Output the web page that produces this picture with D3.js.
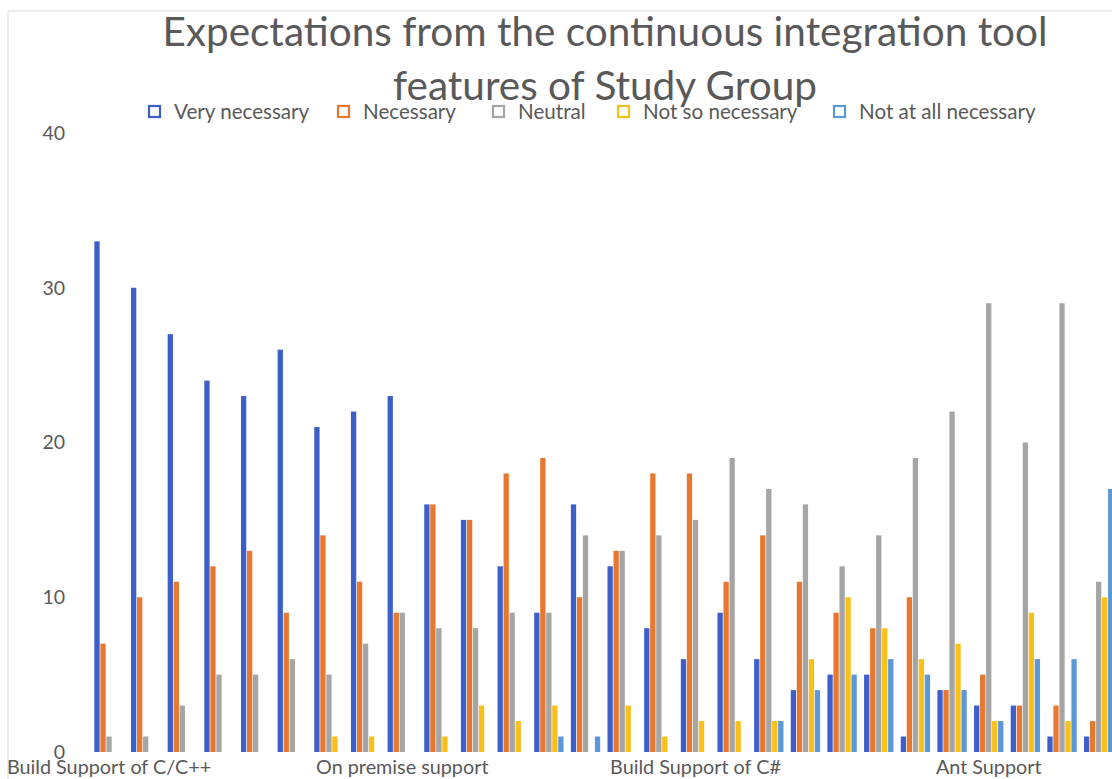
<!DOCTYPE html>
<html>
<head>
<meta charset="utf-8">
<script src="https://cdn.jsdelivr.net/npm/d3@7"></script>
<style>
  html, body { margin: 0; padding: 0; background: #fff; }
  svg { display: block; }
  text { font-family: Lato, "Open Sans", sans-serif; }
</style>
</head>
<body>
<svg id="chart" width="1112" height="779"></svg>
<script>
// ---- data ----
const titleLines = ["Expectations from the continuous integration tool", "features of Study Group"];
const seriesNames = ["Very necessary", "Necessary", "Neutral", "Not so necessary", "Not at all necessary"];
const seriesColors = ["#3D5FC9", "#E8782F", "#A5A5A5", "#F9C01A", "#5A98D8"];
// visible category labels (Excel shows every 8th); hidden ones left blank
const categoryLabels = [
  "Build Support of C/C++", "", "", "", "", "", "", "",
  "On premise support", "", "", "", "", "", "", "",
  "Build Support of C#", "", "", "", "", "", "", "",
  "Ant Support", "", "", ""
];
const veryNecessary    = [33,30,27,24,23,26,21,22,23,16,15,12, 9,16,12, 8, 6, 9, 6, 4, 5, 5, 1, 4, 3, 3, 1, 1];
const necessary        = [ 7,10,11,12,13, 9,14,11, 9,16,15,18,19,10,13,18,18,11,14,11, 9, 8,10, 4, 5, 3, 3, 2];
const neutral          = [ 1, 1, 3, 5, 5, 6, 5, 7, 9, 8, 8, 9, 9,14,13,14,15,19,17,16,12,14,19,22,29,20,29,11];
const notSoNecessary   = [ 0, 0, 0, 0, 0, 0, 1, 1, 0, 1, 3, 2, 3, 0, 3, 1, 2, 2, 2, 6,10, 8, 6, 7, 2, 9, 2,10];
const notAtAllNecessary= [ 0, 0, 0, 0, 0, 0, 0, 0, 0, 0, 0, 0, 1, 1, 0, 0, 0, 0, 2, 4, 5, 6, 5, 4, 2, 6, 6,17];
const yTicks = [0, 10, 20, 30, 40];

const seriesValues = [veryNecessary, necessary, neutral, notSoNecessary, notAtAllNecessary];
const rows = categoryLabels.map((lab, i) => ({
  idx: i, label: lab,
  values: seriesNames.map((s, k) => ({ key: s, k: k, value: seriesValues[k][i] }))
}));

// ---- layout ----
const svg = d3.select("#chart");
const W = 1112, H = 779;
const plot = { left: 90.7, right: 1117, top: 133, bottom: 752 };

// chart border (top & left)
svg.append("line").attr("x1", 8).attr("x2", W).attr("y1", 11).attr("y2", 11)
  .attr("stroke", "#d9d9d9").attr("stroke-width", 1);
svg.append("line").attr("x1", 8).attr("x2", 8).attr("y1", 11).attr("y2", H)
  .attr("stroke", "#d9d9d9").attr("stroke-width", 1);

const x0 = d3.scaleBand().domain(rows.map(d => d.idx))
  .range([plot.left, plot.right]).paddingInner(0.16).paddingOuter(0.08);
const x1 = d3.scaleBand().domain(d3.range(seriesNames.length))
  .range([0, x0.bandwidth()]).padding(0.12);
const y = d3.scaleLinear().domain([0, 40]).range([plot.bottom, plot.top]);

// bars
const g = svg.append("g");
g.selectAll("g.grp").data(rows).join("g")
  .attr("class", "grp")
  .attr("transform", d => `translate(${x0(d.idx)},0)`)
  .selectAll("rect").data(d => d.values.filter(v => v.value > 0)).join("rect")
  .attr("x", v => x1(v.k))
  .attr("width", x1.bandwidth())
  .attr("y", v => y(v.value))
  .attr("height", v => y(0) - y(v.value))
  .attr("fill", v => seriesColors[v.k]);

// y axis (labels only)
const yAxis = d3.axisLeft(y).tickValues(yTicks).tickSize(0).tickPadding(0);
const yg = svg.append("g").attr("transform", "translate(65,0)").call(yAxis);
yg.select(".domain").remove();
yg.selectAll("text").attr("font-size", 19.5).attr("fill", "#595959")
  .style("font-family", "Lato, sans-serif");

// x axis (labels only)
const xAxis = d3.axisBottom(x0).tickFormat(i => categoryLabels[i]).tickSize(0).tickPadding(0);
const xg = svg.append("g").attr("transform", `translate(0,${plot.bottom + 8})`).call(xAxis);
xg.select(".domain").remove();
xg.selectAll("text").attr("font-size", 19.8).attr("fill", "#595959")
  .style("font-family", "Lato, sans-serif");

// title
svg.append("g").selectAll("text").data(titleLines).join("text")
  .attr("x", 605).attr("y", (d, i) => 46 + i * 54)
  .attr("text-anchor", "middle")
  .attr("font-size", 40.5).attr("fill", "#595959")
  .text(d => d);

// legend
const legendX = [148, 337, 492, 617, 833];
const lg = svg.append("g").selectAll("g").data(seriesNames).join("g")
  .attr("transform", (d, i) => `translate(${legendX[i]},105)`);
lg.append("rect").attr("x", 1).attr("y", 1).attr("width", 11).attr("height", 11)
  .attr("fill", "none").attr("stroke", (d, i) => seriesColors[i]).attr("stroke-width", 2.2);
lg.append("text").attr("x", 26).attr("y", 14)
  .attr("font-size", 20.6).attr("fill", "#595959")
  .text(d => d);
</script>
</body>
</html>
